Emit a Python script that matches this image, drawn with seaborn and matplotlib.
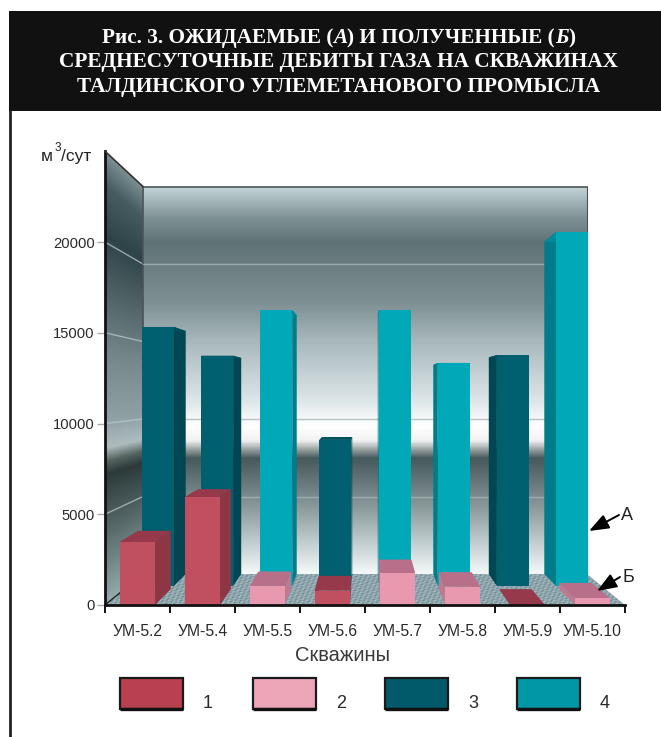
import numpy as np
import pandas as pd
import seaborn as sns
import matplotlib
matplotlib.use("Agg")
import matplotlib.pyplot as plt
from matplotlib.colors import LinearSegmentedColormap
from matplotlib.patches import Polygon, Rectangle

# ---------- data ----------
wells = ["УМ-5.2", "УМ-5.4", "УМ-5.5", "УМ-5.6", "УМ-5.7", "УМ-5.8", "УМ-5.9", "УМ-5.10"]
obtained = [3470, 5950, 1050, 790, 1760, 1010, 0, 370]
obtained_series = ["1", "1", "2", "1", "2", "2", "1", "2"]
expected = [15680, 13940, 16700, 8840, 16700, 13500, 13980, 21430]
expected_series = ["3", "3", "4", "3", "4", "4", "3", "4"]
legend_labels = ["1", "2", "3", "4"]
y_ticks = [0, 5000, 10000, 15000, 20000]
title_lines = [
    [("Рис. 3. ОЖИДАЕМЫЕ (", "normal"), ("А", "italic"), (") И ПОЛУЧЕННЫЕ (", "normal"), ("Б", "italic"), (")", "normal")],
    [("СРЕДНЕСУТОЧНЫЕ ДЕБИТЫ ГАЗА НА СКВАЖИНАХ", "normal")],
    [("ТАЛДИНСКОГО УГЛЕМЕТАНОВОГО ПРОМЫСЛА", "normal")],
]

# ---------- styles ----------
face = {"1": "#c0505f", "2": "#e899b0", "3": "#00606f", "4": "#00a8b8"}
top_c = {"1": "#96394a", "2": "#b8708a", "3": "#00505e", "4": "#008b9a"}
side_c = {"1": "#8e3644", "2": "#c07a90", "3": "#004653", "4": "#007c8a"}
legend_c = {"1": "#b84050", "2": "#eda6b8", "3": "#005a6a", "4": "#0097a7"}

sns.set_style("white")
plt.rcParams["font.family"] = ["Liberation Sans", "DejaVu Sans"]

W, H = 661, 737
YMAX = 25000
X0, SLOT, Y0, K = 105.0, 65.0, 605.0, 18.15 / 1000
VX, VY = 365.0, 393.0
S_FRONT_BACK = 0.925   # rear plane of the front row
S_BACK_FRONT = 0.91    # front plane of the rear row
S_WALL = 0.854         # rear wall
BAR_W = 0.54

fig = plt.figure(figsize=(W / 100, H / 100), dpi=100, facecolor="white")


def plane(s):
    return dict(x0=VX + (X0 - VX) * s, slot=SLOT * s, y0=VY + (Y0 - VY) * s, k=K * s)


def pt(p, cat, val):
    """Category position and value -> pixel on a depth plane."""
    return (p["x0"] + (cat + 0.5) * p["slot"], p["y0"] - val * p["k"])


def plane_axes(s, z):
    p = plane(s)
    h = YMAX * p["k"]
    ax = fig.add_axes([p["x0"] / W, 1 - p["y0"] / H, 8 * p["slot"] / W, h / H], zorder=z)
    ax.set_xlim(-0.5, 7.5)
    ax.set_ylim(0, YMAX)
    ax.patch.set_alpha(0)
    return ax


def pixel_axes(z):
    ax = fig.add_axes([0, 0, 1, 1], zorder=z)
    ax.set_xlim(0, W)
    ax.set_ylim(H, 0)
    ax.axis("off")
    ax.patch.set_alpha(0)
    return ax


def cmap_from(stops, y_from, y_to):
    return LinearSegmentedColormap.from_list(
        "g", [((y - y_from) / (y_to - y_from), c) for y, c in stops], N=512)


FB, BF, WP = plane(S_FRONT_BACK), plane(S_BACK_FRONT), plane(S_WALL)
F = plane(1.0)

# ---------- page furniture, left wall, floor ----------
bg = pixel_axes(0)
bg.add_patch(Rectangle((9, 11), W - 9, 100, fc="#111111", ec="none"))
bg.plot([10, 10], [111, H], color="#222222", lw=2)

lw_pts = [pt(F, -0.5, YMAX), pt(WP, -0.5, YMAX), pt(WP, -0.5, 0), pt(F, -0.5, 0)]
left_stops = [(151, "#7c9094"), (185, "#465c60"), (235, "#2f4448"), (300, "#54676b"),
              (360, "#77898d"), (420, "#8fa1a5"), (448, "#aebcbe"), (462, "#55645f"),
              (475, "#2c3a3a"), (530, "#566767"), (605, "#94aaac")]
cm_left = cmap_from(left_stops, 151, 605)
xx, yy = np.meshgrid(np.linspace(105, 143, 80), np.linspace(151, 605, 500))
ss = 1 - (1 - S_WALL) * (xx - 105) / 38
im = bg.imshow((VY + (yy - VY) / ss - 151) / 454, extent=(105, 143, 605, 151), cmap=cm_left,
               vmin=0, vmax=1, aspect="auto", origin="upper", interpolation="bilinear")
im.set_clip_path(Polygon(lw_pts, transform=bg.transData))
bg.set_xlim(0, W)
bg.set_ylim(H, 0)

fl_pts = [pt(F, -0.5, 0), pt(WP, -0.5, 0), pt(WP, 7.5, 0), pt(F, 7.5, 0)]
gx, gy = np.meshgrid(np.linspace(105, 625, 520), np.linspace(574, 605, 62))
texture = (np.sin(gx * 0.73 + gy * 1.9) + np.sin(gx * 0.31 - gy * 2.7) + np.sin(gx * 1.37 + gy * 0.6))
cm_floor = LinearSegmentedColormap.from_list("f", ["#64808a", "#8fa6ad", "#b4c6ca"])
fim = bg.imshow(texture, extent=(105, 625, 605, 574), cmap=cm_floor, aspect="auto", origin="upper")
fim.set_clip_path(Polygon(fl_pts, transform=bg.transData))
bg.set_xlim(0, W)
bg.set_ylim(H, 0)

# grid lines on the left wall
for v in y_ticks[1:]:
    a, b = pt(F, -0.5, v), pt(WP, -0.5, v)
    bg.plot([a[0], b[0]], [a[1], b[1]], color="#b9c8ca", lw=1, alpha=0.75)
a, b = pt(F, -0.5, 0), pt(WP, -0.5, 0)
bg.plot([a[0], b[0]], [a[1], b[1]], color="#222222", lw=1)

# ---------- rear wall ----------
wall = plane_axes(S_WALL, 1)
wall_stops = [(184, "#c4d4d8"), (215, "#7f9296"), (240, "#5f7276"), (300, "#7d8f93"),
              (340, "#a8b8bc"), (400, "#dde6e8"), (425, "#ffffff"), (440, "#f2f2f2"),
              (449, "#9aa2a2"), (458, "#46595b"), (500, "#808f91"), (545, "#c4d0d2"), (574, "#f4f8f8")]
cm_wall = cmap_from(wall_stops, 184, 574)
wall.imshow(np.linspace(0, 1, 400)[:, None], extent=(-0.5, 7.5, 0, YMAX), cmap=cm_wall,
            aspect="auto", origin="upper", interpolation="bilinear", zorder=0)
wall.set_xlim(-0.5, 7.5)
wall.set_ylim(0, YMAX)
wall.set_yticks(y_ticks[1:])
wall.set_xticks([])
wall.set_yticklabels([])
wall.tick_params(left=False)
wall.grid(axis="y", color="#a7b5b7", lw=1, alpha=0.8)
wall.set_axisbelow(False)
for side, sp in wall.spines.items():
    sp.set_visible(side in ("top", "right", "left"))
    sp.set_color("#4a5456")
    sp.set_linewidth(1.2)
wall.spines["right"].set_linewidth(0.8)


def faces(ax, near, far, values, series):
    half = BAR_W / 2
    for i, (v, s) in enumerate(zip(values, series)):
        nl0, nr0 = pt(near, i - half, 0), pt(near, i + half, 0)
        nl1, nr1 = pt(near, i - half, v), pt(near, i + half, v)
        fl0, fr0 = pt(far, i - half, 0), pt(far, i + half, 0)
        fl1, fr1 = pt(far, i - half, v), pt(far, i + half, v)
        ax.add_patch(Polygon([nl0, nl1, fl1, fl0], fc=side_c[s], ec="none"))
        ax.add_patch(Polygon([nr0, nr1, fr1, fr0], fc=side_c[s], ec="none"))
        ax.add_patch(Polygon([nl1, nr1, fr1, fl1], fc=top_c[s], ec="none"))


def bars(ax, values, series):
    df = pd.DataFrame({"well": wells, "value": values, "series": series})
    sns.barplot(data=df, x="well", y="value", hue="series", order=wells, palette=face, dodge=False,
                width=BAR_W, legend=False, ax=ax, saturation=1, linewidth=0)
    ax.set_xlim(-0.5, 7.5)
    ax.set_ylim(0, YMAX)


# ---------- rear row ----------
faces(pixel_axes(2), BF, WP, expected, expected_series)
back = plane_axes(S_BACK_FRONT, 3)
bars(back, expected, expected_series)
back.axis("off")

# ---------- front row ----------
faces(pixel_axes(4), F, FB, obtained, obtained_series)
front = plane_axes(1.0, 5)
bars(front, obtained, obtained_series)
front.set_xlabel("Скважины", fontsize=14.5, color="#3a3a3a", labelpad=5, x=0.457)
front.set_ylabel("")
front.set_yticks(y_ticks)
front.set_yticklabels([str(v) for v in y_ticks], fontsize=10.6, color="#2a2a2a")
front.set_xticks(np.arange(-0.5, 8.0, 1.0))
front.set_xticklabels([])
front.set_xticks(np.arange(8), minor=True)
front.set_xticklabels(wells, minor=True, fontsize=11.3, color="#2a2a2a")
front.tick_params(axis="x", which="major", length=6, width=1.4, color="#111111", bottom=True)
front.tick_params(axis="x", which="minor", length=0, pad=14, bottom=False)
front.tick_params(axis="y", length=5.5, width=1, color="#aaaaaa", left=True, pad=2)
for side, sp in front.spines.items():
    sp.set_visible(side in ("left", "bottom"))
    sp.set_color("#111111")
    sp.set_linewidth(2)

# ---------- annotations, legend, title ----------
top = pixel_axes(6)
top.plot([X0, pt(WP, -0.5, YMAX)[0]], [pt(F, -0.5, YMAX)[1], pt(WP, -0.5, YMAX)[1]], color="#333333", lw=1.2)
top.text(41, 161, "м", fontsize=12.5, color="#222222", va="baseline")
top.text(55, 151, "3", fontsize=8.5, color="#222222", va="baseline")
top.text(61, 161, "/сут", fontsize=12.5, color="#222222", va="baseline")

for name, x, y, tx, ty in [("А", 620, 514, 589, 531), ("Б", 621, 577, 597, 591)]:
    top.annotate("", xy=(tx, ty), xytext=(x - 1, y + 1 if name == "А" else y),
                 arrowprops=dict(arrowstyle="-|>,head_length=1.0,head_width=0.38", color="#000000", lw=1.4,
                                 shrinkA=0, shrinkB=0, mutation_scale=12))
    top.text(x + 1, y + 1, name, fontsize=13, color="#222222", va="center", ha="left")

for label, x in zip(legend_labels, [120, 253, 385, 517]):
    top.add_patch(Rectangle((x, 677.5), 63, 31, fc=legend_c[label], ec="#1a1a1a", lw=1.6))
    top.plot([x, x + 63], [709, 709], color="#111111", lw=2.4, solid_capstyle="butt")
    top.text(x + 88, 703, label, fontsize=13, color="#2a2a2a", ha="center", va="center", fontstretch="condensed")

renderer = fig.canvas.get_renderer()
TITLE_SIZE = 15.3
for line, y in zip(title_lines, [38, 62, 87]):
    pieces = []
    total = 0.0
    for txt, st in line:
        label = txt.replace(" ", "\u00a0")
        t = top.text(0, y, label, family=["Liberation Serif"], weight="bold", style=st, fontsize=TITLE_SIZE,
                     color="#ffffff", va="center", ha="left")
        w = t.get_window_extent(renderer).width
        pieces.append((t, w))
        total += w
    cur = 338.5 - total / 2
    for t, w in pieces:
        t.set_x(cur)
        cur += w

fig.savefig("out.png", dpi=100, facecolor="white")
